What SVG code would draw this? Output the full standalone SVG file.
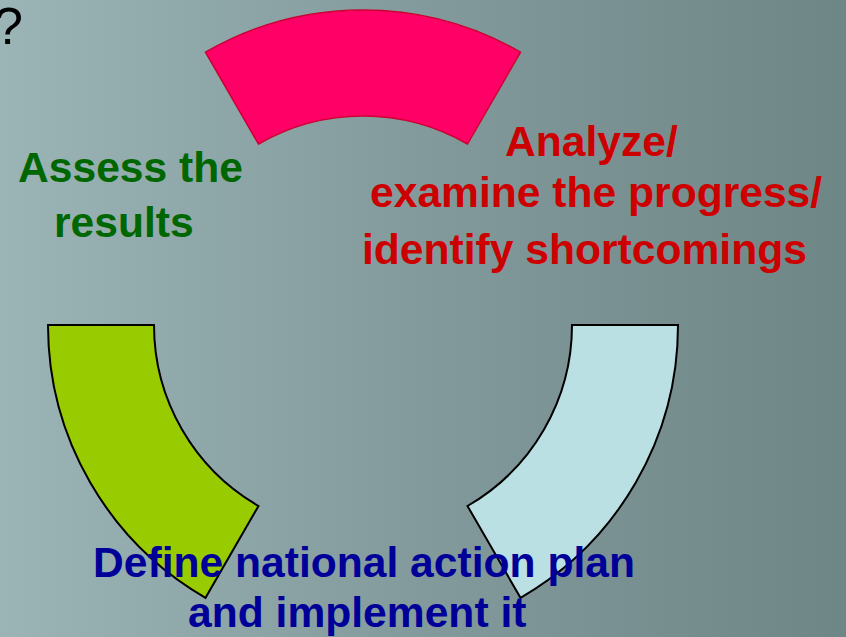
<svg xmlns="http://www.w3.org/2000/svg" width="846" height="637" viewBox="0 0 846 637">
  <defs>
    <linearGradient id="bg" x1="0" y1="0" x2="1" y2="0">
      <stop offset="0" stop-color="#9bb4b6"/>
      <stop offset="0.5" stop-color="#829a9c"/>
      <stop offset="1" stop-color="#6f8686"/>
    </linearGradient>
  </defs>
  <style>
    .lbl { font-family: "Liberation Sans", Arial, sans-serif; font-weight: bold; font-size: 42.6px; }
    .arc-dark { stroke: #000000; stroke-width: 2; stroke-linejoin: miter; }
  </style>
  <rect x="0" y="0" width="846" height="637" fill="url(#bg)"/>
  <text x="-6" y="44" font-family="Liberation Sans, Arial, sans-serif" font-size="52" fill="#000000">?</text>

  <g id="node-top">
    <path d="M205.5,52.2 A315,315 0 0 1 520.5,52.2 L467.5,144 A209,209 0 0 0 258.5,144 Z" fill="#ff0066" stroke="#cc0033" stroke-width="1.5"/>
  </g>
  <g id="node-left">
    <path class="arc-dark" d="M48,325 L154,325 A209,209 0 0 0 258.5,506 L205.5,597.8 A315,315 0 0 1 48,325 Z" fill="#99cc00"/>
  </g>
  <g id="node-right">
    <path class="arc-dark" d="M572,325 L678,325 A315,315 0 0 1 520.5,597.8 L467.5,506 A209,209 0 0 0 572,325 Z" fill="#bbe0e3"/>
  </g>
  <g id="connectors"/>

  <g id="label-assess">
    <text class="lbl" fill="#006600" x="18" y="182">Assess the</text>
    <text class="lbl" fill="#006600" x="54" y="237">results</text>
  </g>
  <g id="label-analyze">
    <text class="lbl" fill="#cc0000" x="505" y="156">Analyze/</text>
    <text class="lbl" fill="#cc0000" x="370" y="207">examine the progress/</text>
    <text class="lbl" fill="#cc0000" x="362" y="264">identify shortcomings</text>
  </g>
  <g id="label-define">
    <text class="lbl" fill="#000099" x="93" y="577">Define national action plan</text>
    <text class="lbl" fill="#000099" x="188" y="627">and implement it</text>
  </g>
</svg>
